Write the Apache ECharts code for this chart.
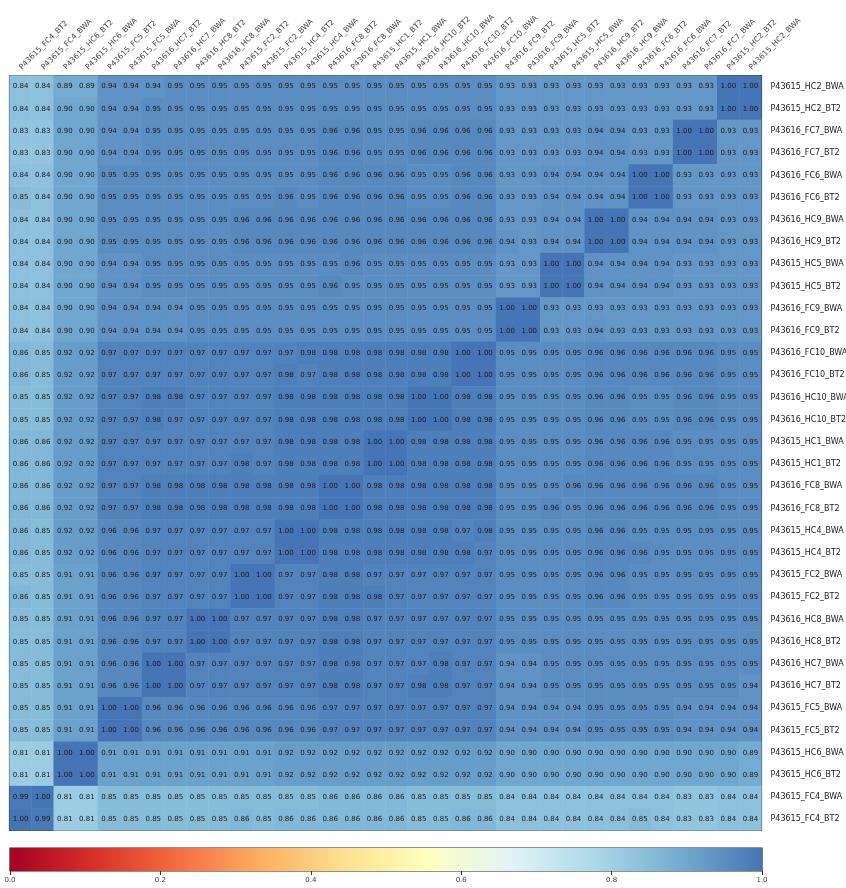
<!DOCTYPE html>
<html>
<head>
<meta charset="utf-8">
<script src="https://cdn.jsdelivr.net/npm/echarts@6/dist/echarts.min.js"></script>
<style>
  html, body { margin: 0; padding: 0; background: #ffffff; }
  #chart { width: 846px; height: 888px; }
</style>
</head>
<body>
<div id="chart"></div>
<script>
// Sample names, left to right on the x axis and bottom to top on the y axis
const samples = [
  'P43615_FC4_BT2', 'P43615_FC4_BWA', 'P43615_HC6_BT2', 'P43615_HC6_BWA',
  'P43615_FC5_BT2', 'P43615_FC5_BWA', 'P43616_HC7_BT2', 'P43616_HC7_BWA',
  'P43616_HC8_BT2', 'P43616_HC8_BWA', 'P43615_FC2_BT2', 'P43615_FC2_BWA',
  'P43615_HC4_BT2', 'P43615_HC4_BWA', 'P43616_FC8_BT2', 'P43616_FC8_BWA',
  'P43615_HC1_BT2', 'P43615_HC1_BWA', 'P43616_HC10_BT2', 'P43616_HC10_BWA',
  'P43616_FC10_BT2', 'P43616_FC10_BWA', 'P43616_FC9_BT2', 'P43616_FC9_BWA',
  'P43615_HC5_BT2', 'P43615_HC5_BWA', 'P43616_HC9_BT2', 'P43616_HC9_BWA',
  'P43616_FC6_BT2', 'P43616_FC6_BWA', 'P43616_FC7_BT2', 'P43616_FC7_BWA',
  'P43615_HC2_BT2', 'P43615_HC2_BWA'
];

// Pairwise similarity, one row per sample, listed from the top row (HC2_BWA) down
const similarity = [
  [0.84,0.84,0.89,0.89,0.94,0.94,0.94,0.95,0.95,0.95,0.95,0.95,0.95,0.95,0.95,0.95,0.95,0.95,0.95,0.95,0.95,0.95,0.93,0.93,0.93,0.93,0.93,0.93,0.93,0.93,0.93,0.93,1.00,1.00],
  [0.84,0.84,0.90,0.90,0.94,0.94,0.95,0.95,0.95,0.95,0.95,0.95,0.95,0.95,0.95,0.95,0.95,0.95,0.95,0.95,0.95,0.95,0.93,0.93,0.93,0.93,0.93,0.93,0.93,0.93,0.93,0.93,1.00,1.00],
  [0.83,0.83,0.90,0.90,0.94,0.94,0.95,0.95,0.95,0.95,0.95,0.95,0.95,0.95,0.96,0.96,0.95,0.95,0.96,0.96,0.96,0.96,0.93,0.93,0.93,0.93,0.94,0.94,0.93,0.93,1.00,1.00,0.93,0.93],
  [0.83,0.83,0.90,0.90,0.94,0.94,0.95,0.95,0.95,0.95,0.95,0.95,0.95,0.95,0.96,0.96,0.95,0.95,0.96,0.96,0.96,0.96,0.93,0.93,0.93,0.93,0.94,0.94,0.93,0.93,1.00,1.00,0.93,0.93],
  [0.84,0.84,0.90,0.90,0.95,0.95,0.95,0.95,0.95,0.95,0.95,0.95,0.95,0.95,0.96,0.96,0.96,0.96,0.95,0.95,0.96,0.96,0.93,0.93,0.94,0.94,0.94,0.94,1.00,1.00,0.93,0.93,0.93,0.93],
  [0.85,0.84,0.90,0.90,0.95,0.95,0.95,0.95,0.95,0.95,0.95,0.95,0.96,0.95,0.96,0.96,0.96,0.96,0.95,0.95,0.96,0.96,0.93,0.93,0.94,0.94,0.94,0.94,1.00,1.00,0.93,0.93,0.93,0.93],
  [0.84,0.84,0.90,0.90,0.95,0.95,0.95,0.95,0.95,0.95,0.96,0.96,0.96,0.96,0.96,0.96,0.96,0.96,0.96,0.96,0.96,0.96,0.93,0.93,0.94,0.94,1.00,1.00,0.94,0.94,0.94,0.94,0.93,0.93],
  [0.84,0.84,0.90,0.90,0.95,0.95,0.95,0.95,0.95,0.95,0.96,0.96,0.96,0.96,0.96,0.96,0.96,0.96,0.96,0.96,0.96,0.96,0.94,0.93,0.94,0.94,1.00,1.00,0.94,0.94,0.94,0.94,0.93,0.93],
  [0.84,0.84,0.90,0.90,0.94,0.94,0.95,0.95,0.95,0.95,0.95,0.95,0.95,0.95,0.95,0.96,0.95,0.95,0.95,0.95,0.95,0.95,0.93,0.93,1.00,1.00,0.94,0.94,0.94,0.94,0.93,0.93,0.93,0.93],
  [0.84,0.84,0.90,0.90,0.94,0.94,0.95,0.95,0.95,0.95,0.95,0.95,0.95,0.95,0.96,0.95,0.95,0.95,0.95,0.95,0.95,0.95,0.93,0.93,1.00,1.00,0.94,0.94,0.94,0.94,0.93,0.93,0.93,0.93],
  [0.84,0.84,0.90,0.90,0.94,0.94,0.94,0.94,0.95,0.95,0.95,0.95,0.95,0.95,0.95,0.95,0.95,0.95,0.95,0.95,0.95,0.95,1.00,1.00,0.93,0.93,0.93,0.93,0.93,0.93,0.93,0.93,0.93,0.93],
  [0.84,0.84,0.90,0.90,0.94,0.94,0.94,0.94,0.95,0.95,0.95,0.95,0.95,0.95,0.95,0.95,0.95,0.95,0.95,0.95,0.95,0.95,1.00,1.00,0.93,0.93,0.94,0.93,0.93,0.93,0.93,0.93,0.93,0.93],
  [0.86,0.85,0.92,0.92,0.97,0.97,0.97,0.97,0.97,0.97,0.97,0.97,0.97,0.98,0.98,0.98,0.98,0.98,0.98,0.98,1.00,1.00,0.95,0.95,0.95,0.95,0.96,0.96,0.96,0.96,0.96,0.96,0.95,0.95],
  [0.86,0.85,0.92,0.92,0.97,0.97,0.97,0.97,0.97,0.97,0.97,0.97,0.98,0.97,0.98,0.98,0.98,0.98,0.98,0.98,1.00,1.00,0.95,0.95,0.95,0.95,0.96,0.96,0.96,0.96,0.96,0.96,0.95,0.95],
  [0.85,0.85,0.92,0.92,0.97,0.97,0.98,0.98,0.97,0.97,0.97,0.97,0.98,0.98,0.98,0.98,0.98,0.98,1.00,1.00,0.98,0.98,0.95,0.95,0.95,0.95,0.96,0.96,0.95,0.95,0.96,0.96,0.95,0.95],
  [0.85,0.85,0.92,0.92,0.97,0.97,0.98,0.97,0.97,0.97,0.97,0.97,0.98,0.98,0.98,0.98,0.98,0.98,1.00,1.00,0.98,0.98,0.95,0.95,0.95,0.95,0.96,0.96,0.95,0.95,0.96,0.96,0.95,0.95],
  [0.86,0.86,0.92,0.92,0.97,0.97,0.97,0.97,0.97,0.97,0.97,0.97,0.98,0.98,0.98,0.98,1.00,1.00,0.98,0.98,0.98,0.98,0.95,0.95,0.95,0.95,0.96,0.96,0.96,0.96,0.95,0.95,0.95,0.95],
  [0.86,0.86,0.92,0.92,0.97,0.97,0.97,0.97,0.97,0.97,0.98,0.97,0.98,0.98,0.98,0.98,1.00,1.00,0.98,0.98,0.98,0.98,0.95,0.95,0.95,0.95,0.96,0.96,0.96,0.96,0.95,0.95,0.95,0.95],
  [0.86,0.86,0.92,0.92,0.97,0.97,0.98,0.98,0.98,0.98,0.98,0.98,0.98,0.98,1.00,1.00,0.98,0.98,0.98,0.98,0.98,0.98,0.95,0.95,0.95,0.96,0.96,0.96,0.96,0.96,0.96,0.96,0.95,0.95],
  [0.86,0.86,0.92,0.92,0.97,0.97,0.98,0.98,0.98,0.98,0.98,0.98,0.98,0.98,1.00,1.00,0.98,0.98,0.98,0.98,0.98,0.98,0.95,0.95,0.96,0.95,0.96,0.96,0.96,0.96,0.96,0.96,0.95,0.95],
  [0.86,0.85,0.92,0.92,0.96,0.96,0.97,0.97,0.97,0.97,0.97,0.97,1.00,1.00,0.98,0.98,0.98,0.98,0.98,0.98,0.97,0.98,0.95,0.95,0.95,0.95,0.96,0.96,0.95,0.95,0.95,0.95,0.95,0.95],
  [0.86,0.85,0.92,0.92,0.96,0.96,0.97,0.97,0.97,0.97,0.97,0.97,1.00,1.00,0.98,0.98,0.98,0.98,0.98,0.98,0.98,0.97,0.95,0.95,0.95,0.95,0.96,0.96,0.96,0.95,0.95,0.95,0.95,0.95],
  [0.85,0.85,0.91,0.91,0.96,0.96,0.97,0.97,0.97,0.97,1.00,1.00,0.97,0.97,0.98,0.98,0.97,0.97,0.97,0.97,0.97,0.97,0.95,0.95,0.95,0.95,0.96,0.96,0.95,0.95,0.95,0.95,0.95,0.95],
  [0.86,0.85,0.91,0.91,0.96,0.96,0.97,0.97,0.97,0.97,1.00,1.00,0.97,0.97,0.98,0.98,0.98,0.97,0.97,0.97,0.97,0.97,0.95,0.95,0.95,0.95,0.96,0.96,0.95,0.95,0.95,0.95,0.95,0.95],
  [0.85,0.85,0.91,0.91,0.96,0.96,0.97,0.97,1.00,1.00,0.97,0.97,0.97,0.97,0.98,0.98,0.97,0.97,0.97,0.97,0.97,0.97,0.95,0.95,0.95,0.95,0.95,0.95,0.95,0.95,0.95,0.95,0.95,0.95],
  [0.85,0.85,0.91,0.91,0.96,0.96,0.97,0.97,1.00,1.00,0.97,0.97,0.97,0.97,0.98,0.98,0.97,0.97,0.97,0.97,0.97,0.97,0.95,0.95,0.95,0.95,0.95,0.95,0.95,0.95,0.95,0.95,0.95,0.95],
  [0.85,0.85,0.91,0.91,0.96,0.96,1.00,1.00,0.97,0.97,0.97,0.97,0.97,0.97,0.98,0.98,0.97,0.97,0.97,0.98,0.97,0.97,0.94,0.94,0.95,0.95,0.95,0.95,0.95,0.95,0.95,0.95,0.95,0.95],
  [0.85,0.85,0.91,0.91,0.96,0.96,1.00,1.00,0.97,0.97,0.97,0.97,0.97,0.97,0.98,0.98,0.97,0.97,0.98,0.98,0.97,0.97,0.94,0.94,0.95,0.95,0.95,0.95,0.95,0.95,0.95,0.95,0.95,0.94],
  [0.85,0.85,0.91,0.91,1.00,1.00,0.96,0.96,0.96,0.96,0.96,0.96,0.96,0.96,0.97,0.97,0.97,0.97,0.97,0.97,0.97,0.97,0.94,0.94,0.94,0.94,0.95,0.95,0.95,0.95,0.94,0.94,0.94,0.94],
  [0.85,0.85,0.91,0.91,1.00,1.00,0.96,0.96,0.96,0.96,0.96,0.96,0.96,0.96,0.97,0.97,0.97,0.97,0.97,0.97,0.97,0.97,0.94,0.94,0.94,0.94,0.95,0.95,0.95,0.95,0.94,0.94,0.94,0.94],
  [0.81,0.81,1.00,1.00,0.91,0.91,0.91,0.91,0.91,0.91,0.91,0.91,0.92,0.92,0.92,0.92,0.92,0.92,0.92,0.92,0.92,0.92,0.90,0.90,0.90,0.90,0.90,0.90,0.90,0.90,0.90,0.90,0.90,0.89],
  [0.81,0.81,1.00,1.00,0.91,0.91,0.91,0.91,0.91,0.91,0.91,0.91,0.92,0.92,0.92,0.92,0.92,0.92,0.92,0.92,0.92,0.92,0.90,0.90,0.90,0.90,0.90,0.90,0.90,0.90,0.90,0.90,0.90,0.89],
  [0.99,1.00,0.81,0.81,0.85,0.85,0.85,0.85,0.85,0.85,0.85,0.85,0.85,0.85,0.86,0.86,0.86,0.86,0.85,0.85,0.85,0.85,0.84,0.84,0.84,0.84,0.84,0.84,0.84,0.84,0.83,0.83,0.84,0.84],
  [1.00,0.99,0.81,0.81,0.85,0.85,0.85,0.85,0.85,0.85,0.86,0.85,0.86,0.86,0.86,0.86,0.86,0.86,0.85,0.85,0.86,0.86,0.84,0.84,0.84,0.84,0.84,0.84,0.85,0.84,0.83,0.83,0.84,0.84]
];

// Colour bar range and tick labels
const colorbarRange = [0, 1];
const colorbarTicks = [0.0, 0.2, 0.4, 0.6, 0.8, 1.0];

// Diverging red-yellow-blue palette, running from red at 0 to blue at 1
const palette = ['#a50026', '#d73027', '#f46d43', '#fdae61', '#fee090',
                 '#ffffbf', '#e0f3f8', '#abd9e9', '#74add1', '#4575b4'];

const FONT = 'DejaVu Sans';
const n = samples.length;

// Heatmap triples: [column, row from bottom, value]
const cells = [];
similarity.forEach((row, r) => {
  row.forEach((v, c) => {
    cells.push([c, n - 1 - r, v]);
  });
});

const gradientStops = palette.map((col, i) => ({ offset: i / (palette.length - 1), color: col }));

const chart = echarts.init(document.getElementById('chart'), null, { renderer: 'canvas' });

chart.setOption({
  backgroundColor: '#ffffff',
  animation: false,
  grid: [
    { left: 9.5, top: 75.5, width: 752, height: 755, show: true,
      outerBoundsMode: 'none', containLabel: false,
      borderColor: '#222', borderWidth: 1.2, backgroundColor: 'transparent' },
    { left: 10, top: 848, width: 752, height: 23, show: true,
      outerBoundsMode: 'none', containLabel: false,
      borderColor: '#222', borderWidth: 1.2, backgroundColor: 'transparent' }
  ],
  xAxis: [
    {
      type: 'category', gridIndex: 0, data: samples, position: 'top',
      axisLine: { show: false }, axisTick: { show: false }, splitLine: { show: false },
      axisLabel: { rotate: -45, interval: 0, fontSize: 7.6, fontFamily: FONT, color: '#444', margin: 7 }
    },
    {
      type: 'value', gridIndex: 1, min: colorbarRange[0], max: colorbarRange[1], interval: 0.2,
      position: 'bottom',
      axisLine: { show: false },
      axisTick: { show: true, length: 4, lineStyle: { color: '#333', width: 1 } },
      splitLine: { show: false },
      axisLabel: { fontSize: 7, fontFamily: FONT, color: '#444', margin: 6,
        formatter: v => colorbarTicks.some(t => Math.abs(t - v) < 1e-9) ? v.toFixed(1) : '' }
    }
  ],
  yAxis: [
    {
      type: 'category', gridIndex: 0, data: samples, position: 'right',
      axisLine: { show: false }, axisTick: { show: false }, splitLine: { show: false },
      axisLabel: { interval: 0, fontSize: 8, fontFamily: FONT, color: '#222', margin: 9 }
    },
    {
      type: 'value', gridIndex: 1, min: 0, max: 1, show: false
    }
  ],
  visualMap: {
    show: false, type: 'continuous', min: 0, max: 1, seriesIndex: 0,
    inRange: { color: palette }
  },
  series: [
    {
      type: 'heatmap', xAxisIndex: 0, yAxisIndex: 0, data: cells,
      itemStyle: { borderWidth: 0 },
      label: {
        show: true, fontSize: 7, fontFamily: FONT, color: '#1a1a1a',
        formatter: p => p.value[2].toFixed(2)
      },
      emphasis: { disabled: true }
    },
    {
      type: 'custom', xAxisIndex: 1, yAxisIndex: 1, silent: true,
      data: [colorbarRange],
      renderItem: (params, api) => {
        const p0 = api.coord([api.value(0), 0]);
        const p1 = api.coord([api.value(1), 1]);
        return {
          type: 'rect',
          shape: { x: p0[0], y: p1[1], width: p1[0] - p0[0], height: p0[1] - p1[1] },
          style: {
            fill: new echarts.graphic.LinearGradient(0, 0, 1, 0, gradientStops)
          }
        };
      }
    }
  ]
});
</script>
</body>
</html>
